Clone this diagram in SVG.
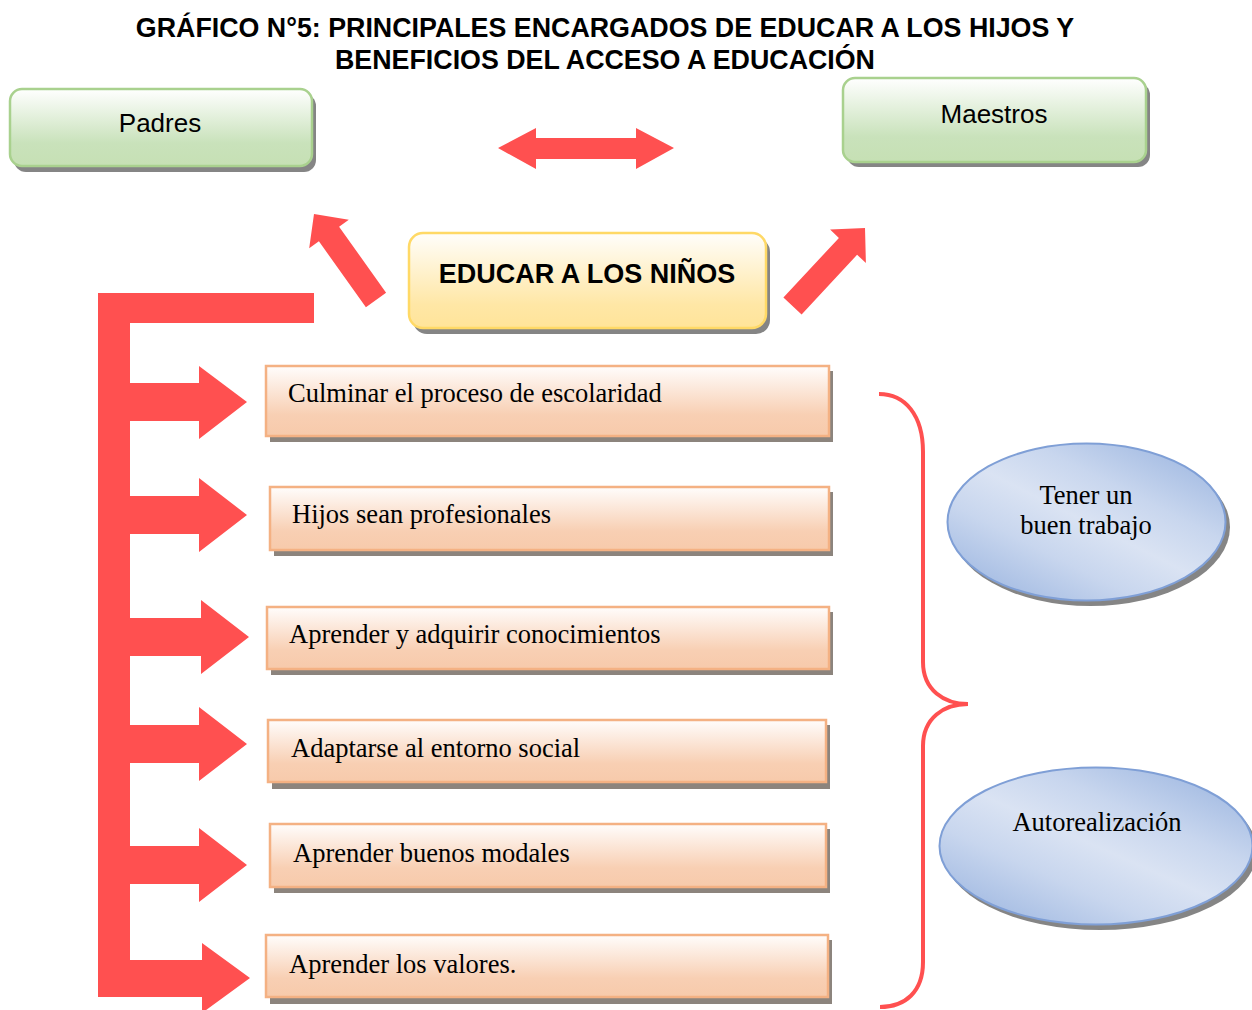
<svg xmlns="http://www.w3.org/2000/svg" width="1252" height="1010" viewBox="0 0 1252 1010">
<defs>
<linearGradient id="gGreen" x1="0" y1="0" x2="0" y2="1">
<stop offset="0" stop-color="#ffffff"/><stop offset="0.7" stop-color="#c9e2bb"/><stop offset="1" stop-color="#c6e0b4"/>
</linearGradient>
<linearGradient id="gYellow" x1="0" y1="0" x2="0" y2="1">
<stop offset="0" stop-color="#fffefb"/><stop offset="0.75" stop-color="#ffe7a6"/><stop offset="1" stop-color="#ffe499"/>
</linearGradient>
<linearGradient id="gPeach" x1="0" y1="0" x2="0" y2="1">
<stop offset="0" stop-color="#fffdfc"/><stop offset="0.7" stop-color="#f8cfb3"/><stop offset="1" stop-color="#f7caab"/>
</linearGradient>
<linearGradient id="gBlue" x1="0.1" y1="0.95" x2="0.9" y2="0.05">
<stop offset="0" stop-color="#9fb8e1"/><stop offset="0.3" stop-color="#c8d6ee"/><stop offset="0.5" stop-color="#dae3f3"/><stop offset="0.7" stop-color="#c8d6ee"/><stop offset="1" stop-color="#9fb8e1"/>
</linearGradient>
<style>
.title{font-family:"Liberation Sans",Arial,sans-serif;font-weight:bold;font-size:26.8px;fill:#000;text-anchor:middle}
.sans{font-family:"Liberation Sans",Arial,sans-serif;font-size:26px;fill:#000;text-anchor:middle}
.bold{font-weight:bold;font-size:27px}
.serif{font-family:"Liberation Serif","Times New Roman",serif;font-size:26.5px;fill:#000}
.mid{text-anchor:middle}
.green{fill:url(#gGreen);stroke:#a9d18e;stroke-width:2.5}
.yellow{fill:url(#gYellow);stroke:#ffd966;stroke-width:2.5}
.peach{fill:url(#gPeach);stroke:#f4b183;stroke-width:2.5}
.blue{fill:url(#gBlue);stroke:#7f9fd6;stroke-width:2}
.shadow{fill:#858585}
.pshadow{fill:#8c847d}
.red{fill:#ff5050}
.brace{fill:none;stroke:#ff5050;stroke-width:4}
</style>
</defs>
<rect width="1252" height="1010" fill="#ffffff"/>

<g id="title">
<text class="title" x="605" y="37">GRÁFICO N°5: PRINCIPALES ENCARGADOS DE EDUCAR A LOS HIJOS Y</text>
<text class="title" x="605" y="69">BENEFICIOS DEL ACCESO A EDUCACIÓN</text>
</g>

<g id="connectors">
<polygon class="red" points="498,148 536,128 536,138 636,138 636,128 674,148 636,169 636,159 536,159 536,169"/>
<polygon class="red" points="314,214 348.8,219.7 339.1,226.7 386.1,292.7 365.9,307.3 318.9,241.3 309.2,248.3"/>
<polygon class="red" points="865,228 865.9,263 857.1,254.7 801.6,314.4 783.4,297.6 838.9,237.9 830.1,229.6"/>
<polygon class="red" points="98,293 314,293 314,323 130,323 130,997 98,997"/>
<polygon class="red" points="129,383 199,383 199,366 247,402 199,439 199,421 129,421"/>
<polygon class="red" points="129,496 199,496 199,478 247,515 199,552 199,534 129,534"/>
<polygon class="red" points="129,618 201,618 201,600 249,637 201,674 201,656 129,656"/>
<polygon class="red" points="129,725 199,725 199,707 247,744 199,781 199,763 129,763"/>
<polygon class="red" points="129,846 199,846 199,828 247,865 199,902 199,884 129,884"/>
<polygon class="red" points="129,960 202,960 202,943 250,978 202,1013 202,997 129,997"/>
<path class="brace" d="M879,394 C905,394 923,415 923,452 L923,662 C923,690 944,704 968,704 C944,704 923,718 923,746 L923,962 C923,992 905,1007 880,1007"/>
</g>

<g id="padres">
<rect class="shadow" x="14" y="94" width="302" height="78" rx="12"/>
<rect class="green" x="10" y="89" width="302" height="77" rx="12"/>
<text class="sans" x="160" y="132">Padres</text>
</g>

<g id="maestros">
<rect class="shadow" x="847" y="83" width="303" height="84" rx="12"/>
<rect class="green" x="843" y="78" width="303" height="84" rx="12"/>
<text class="sans" x="994" y="123">Maestros</text>
</g>

<g id="educar">
<rect class="shadow" x="413" y="238" width="357" height="96" rx="14"/>
<rect class="yellow" x="409" y="233" width="357" height="95" rx="14"/>
<text class="sans bold" x="587" y="283">EDUCAR A LOS NIÑOS</text>
</g>

<g id="b1">
<rect class="pshadow" x="270" y="371" width="563" height="71"/>
<rect class="peach" x="266" y="366" width="563" height="70"/>
<text class="serif" x="288" y="402">Culminar el proceso de escolaridad</text>
</g>
<g id="b2">
<rect class="pshadow" x="274" y="492" width="559" height="64"/>
<rect class="peach" x="270" y="487" width="559" height="63"/>
<text class="serif" x="292" y="523">Hijos sean profesionales</text>
</g>
<g id="b3">
<rect class="pshadow" x="271" y="612" width="562" height="63"/>
<rect class="peach" x="267" y="607" width="562" height="62"/>
<text class="serif" x="289" y="643">Aprender y adquirir conocimientos</text>
</g>
<g id="b4">
<rect class="pshadow" x="272" y="725" width="558" height="64"/>
<rect class="peach" x="268" y="720" width="558" height="62"/>
<text class="serif" x="291" y="757">Adaptarse al entorno social</text>
</g>
<g id="b5">
<rect class="pshadow" x="274" y="829" width="556" height="64"/>
<rect class="peach" x="270" y="824" width="556" height="63"/>
<text class="serif" x="293" y="862">Aprender buenos modales</text>
</g>
<g id="b6">
<rect class="pshadow" x="270" y="940" width="562" height="64"/>
<rect class="peach" x="266" y="935" width="562" height="62"/>
<text class="serif" x="289" y="973">Aprender los valores.</text>
</g>

<g id="trabajo">
<ellipse class="shadow" cx="1090.5" cy="527" rx="139.5" ry="79"/>
<ellipse class="blue" cx="1086.5" cy="522" rx="139" ry="78.5"/>
<text class="serif mid" x="1086" y="504">Tener un</text>
<text class="serif mid" x="1086" y="534">buen trabajo</text>
</g>

<g id="autorrealizacion">
<ellipse class="shadow" cx="1100" cy="851" rx="157" ry="79"/>
<ellipse class="blue" cx="1096" cy="846" rx="156.5" ry="78.5"/>
<text class="serif mid" x="1097" y="831">Autorealización</text>
</g>
</svg>
